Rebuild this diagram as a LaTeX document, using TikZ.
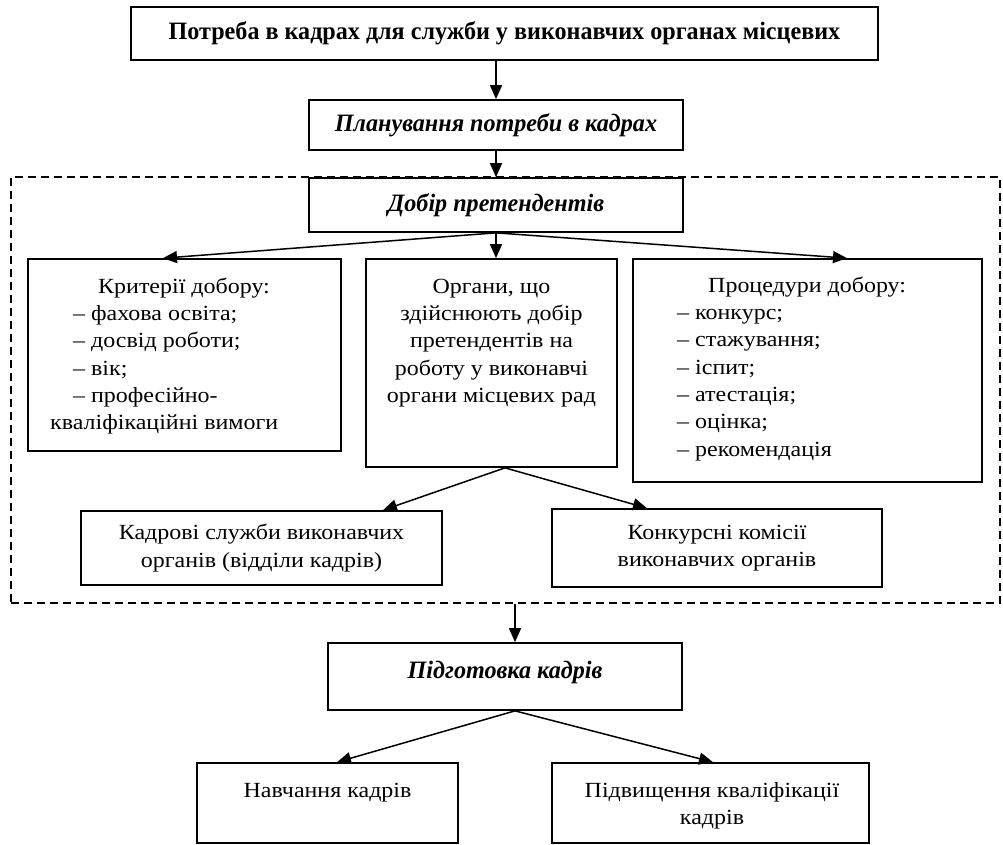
\documentclass[tikz,border=0pt]{standalone}
\usepackage{fontspec}
\setmainfont{Liberation Serif}[FakeStretch=1.11]
\newfontfamily\hfam{Liberation Serif}[FakeStretch=0.965]
\usetikzlibrary{arrows.meta}
\newcommand\nf{\fontsize{21.6pt}{27.3pt}\selectfont}
\newcommand\hf{\hfam\fontsize{25pt}{30pt}\selectfont\bfseries}
\newcommand\fs{\rule{0pt}{17pt}}
\begin{document}
\begin{tikzpicture}[x=1pt,y=-1pt,
  box/.style={draw, line width=1.7pt, rectangle, inner sep=0pt},
  txt/.style={inner sep=0pt, font=\nf},
  arr/.style={line width=1.5pt, -{Triangle[length=14pt,width=12pt]}},
  frame/.style={draw, line width=1.2pt, dash pattern=on 8pt off 5pt, rectangle, inner sep=0pt}]
\useasboundingbox (0,0) rectangle (1003,844);
% dashed frame
\node[frame, minimum width=989pt, minimum height=426pt] (fr) at (505.5,390) {};
% top boxes
\node[box, minimum width=747pt, minimum height=53pt, font=\hf] (top) at (504.5,33.5) {Потреба в кадрах для служби у виконавчих органах місцевих};
\node[box, minimum width=374pt, minimum height=50pt, font=\hf\itshape] (plan) at (496,125) {Планування потреби в кадрах};
\node[box, minimum width=374pt, minimum height=54pt, font=\hf\itshape] (dob) at (496,205) {Добір претендентів};
% three boxes
\node[box, minimum width=313pt, minimum height=192pt] (crit) at (184.5,355) {};
\node[box, minimum width=251pt, minimum height=208pt] (org) at (491.5,363) {};
\node[box, minimum width=349pt, minimum height=223pt] (proc) at (807.5,370.5) {};
\node[txt, anchor=north west, align=left] (critT) at (50,276) {\fs\hspace*{48pt}Критерії добору:\\
\hspace*{23pt}– фахова освіта;\\
\hspace*{23pt}– досвід роботи;\\
\hspace*{23pt}– вік;\\
\hspace*{23pt}– професійно-\\
кваліфікаційні вимоги};
\node[txt, anchor=north, align=center] (orgT) at (491.5,276) {\fs Органи, що\\здійснюють добір\\претендентів на\\роботу у виконавчі\\органи місцевих рад};
\node[txt, anchor=north west, align=left] (procT) at (677,275) {\fs\hspace*{31pt}Процедури добору:\\
– конкурс;\\
– стажування;\\
– іспит;\\
– атестація;\\
– оцінка;\\
– рекомендація};
% second level in frame
\node[box, minimum width=361pt, minimum height=74pt, font=\nf, align=center] (kadr) at (261.5,548) {Кадрові служби виконавчих\\органів (відділи кадрів)};
\node[box, minimum width=330pt, minimum height=78pt, font=\nf, align=center] (konk) at (717,548) {Конкурсні комісії\\виконавчих органів};
% bottom part
\node[box, minimum width=354pt, minimum height=67pt] (pidg) at (505,676.5) {};
\node[inner sep=0pt, anchor=base, font=\hf\itshape] (pidgT) at (505,678) {Підготовка кадрів};
\node[box, minimum width=261pt, minimum height=80pt] (nav) at (327.5,803) {};
\node[txt, anchor=base] (navT) at (327.5,797) {Навчання кадрів};
\node[box, minimum width=317pt, minimum height=80pt] (pidv) at (710.5,803) {};
\node[txt, anchor=north, align=center] (pidvT) at (712,780) {\fs Підвищення кваліфікації\\кадрів};
% connectors
\draw[arr] (top.south -| plan.north) -- (plan.north);
\draw[arr] (plan.south) -- (dob.north);
\draw[arr] (dob.south) -- ([xshift=-21.5pt]crit.north);
\draw[arr] (dob.south) -- (dob.south |- org.north);
\draw[arr] (dob.south) -- ([xshift=39.5pt]proc.north);
\coordinate (orgB) at ([xshift=13.5pt]org.south);
\draw[arr] (orgB) -- ([xshift=121.5pt]kadr.north);
\draw[arr] (orgB) -- ([xshift=-70pt]konk.north);
\coordinate (pidgN) at ([xshift=10pt]pidg.north);
\draw[arr] (fr.south -| pidgN) -- (pidgN);
\coordinate (pidgS) at ([xshift=10pt]pidg.south);
\draw[arr] (pidgS) -- ([xshift=9.5pt]nav.north);
\draw[arr] (pidgS) -- ([xshift=2.5pt]pidv.north);
\end{tikzpicture}
\end{document}
